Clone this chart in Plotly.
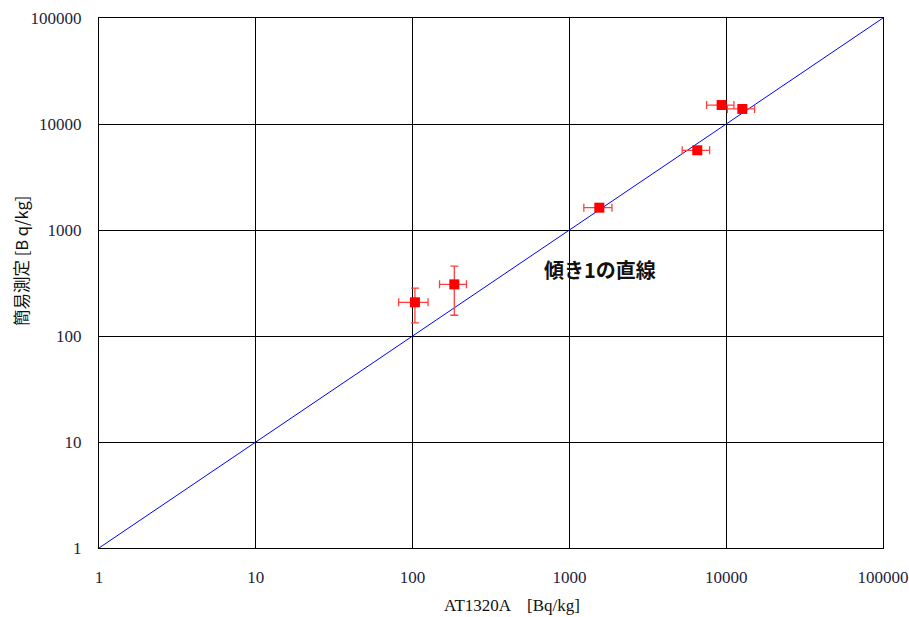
import plotly.graph_objects as go

# Data
at1320a = [103.5, 184.5, 1552, 6540, 9350, 12670]
at1320a_err = [22, 36, 316, 1300, 1850, 2500]
simple = [208, 307, 1624, 5650, 15100, 13860]
simple_err = [75, 150, 0, 0, 0, 0]

line_x = [1, 100000]
line_y = [1, 100000]

tick_vals = [1, 10, 100, 1000, 10000, 100000]
tick_text = ["1", "10", "100", "1000", "10000", "100000"]

fig = go.Figure()
fig.add_trace(go.Scatter(x=line_x, y=line_y, mode="lines",
                         line=dict(color="#0000ff", width=1), showlegend=False,
                         hoverinfo="skip"))
fig.add_trace(go.Scatter(
    x=at1320a, y=simple, mode="markers",
    marker=dict(symbol="square", size=10, color="#ff0000"),
    error_x=dict(type="data", array=at1320a_err, color="#ff4040", thickness=1.3, width=4),
    error_y=dict(type="data", array=simple_err, color="#ff4040", thickness=1.3, width=4),
    showlegend=False))

axis_common = dict(
    type="log", tickvals=tick_vals, ticktext=tick_text,
    showgrid=True, gridcolor="#000000", gridwidth=1,
    showline=True, linecolor="#000000", linewidth=1, mirror=True,
    zeroline=False, automargin=False, ticks="",
    tickfont=dict(family="Liberation Serif", size=17, color="#1e1e3c"),
)
fig.update_xaxes(range=[0, 5], ticklabelstandoff=14, **axis_common)
fig.update_yaxes(range=[0, 5], ticklabelstandoff=13, **axis_common)

# axis titles
fig.add_annotation(x=0.5268, y=0, xref="paper", yref="paper", yshift=-57,
                   xanchor="center", yanchor="middle", showarrow=False,
                   text="AT1320A　[Bq/kg]",
                   font=dict(family="Liberation Serif, Noto Sans CJK JP", size=17, color="#111"))
fig.add_annotation(x=0, y=0.5415, xref="paper", yref="paper", xshift=-78,
                   xanchor="center", yanchor="middle", showarrow=False, textangle=-90,
                   text="簡易測定 [B q/kg]",
                   font=dict(family="Noto Sans CJK JP", size=16.5, color="#111"))

fig.add_annotation(x=3.195, y=2.623, xref="x", yref="y", text="<b>傾き1の直線</b>",
                   showarrow=False, font=dict(family="Noto Sans CJK JP", size=20, color="#111"))

fig.update_layout(
    width=909, height=617,
    margin=dict(l=99, r=26, t=18, b=69),
    plot_bgcolor="#ffffff", paper_bgcolor="#ffffff",
)

fig.write_html("out.html", config={"displayModeBar": False},
               post_script="document.body.style.margin='0';document.body.style.overflow='hidden';")
